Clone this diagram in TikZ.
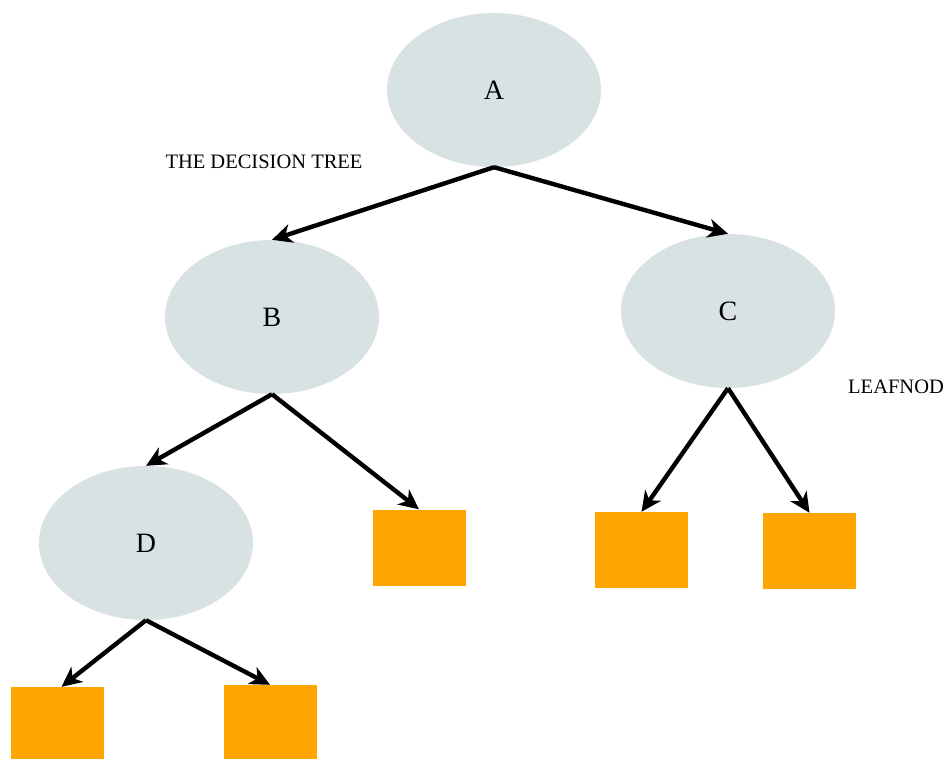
\documentclass[tikz,border=0pt]{standalone}
\usepackage{fontspec}
\setmainfont{Liberation Serif}
\usetikzlibrary{arrows.meta,shapes.geometric}
\definecolor{nodefill}{HTML}{D8E2E3}
\definecolor{leaffill}{HTML}{FFA500}
\begin{document}
\begin{tikzpicture}[x=1pt,y=-1pt,
  decision/.style={ellipse, fill=nodefill, draw=none, minimum width=214pt, minimum height=154pt, inner sep=0pt, font=\fontsize{28}{32}\selectfont},
  leaf/.style={rectangle, fill=leaffill, draw=none, minimum width=93pt, minimum height=76pt, inner sep=0pt},
  branch/.style={line width=4.4pt, -{Stealth[length=20pt,width=19pt,inset=6pt]}},
  caption/.style={font=\fontsize{20.5}{24}\selectfont, inner sep=0pt}]
  \useasboundingbox[fill=white] (0,0) rectangle (947,758);
  % decision nodes
  \node[decision] (A) at (494,90) {A};
  \node[decision] (B) at (272,317) {B};
  \node[decision] (C) at (728,311) {C};
  \node[decision] (D) at (146,543) {D};
  % leaves
  \node[leaf] (L1) at (419,547.5) {};
  \node[leaf] (L2) at (641.5,550) {};
  \node[leaf] (L3) at (809.5,551) {};
  \node[leaf] (L4) at (57.5,725) {};
  \node[leaf] (L5) at (270,723) {};
  % labels
  \node[caption] (title) at (264,162) {THE DECISION TREE};
  \node[caption, anchor=west] (leafnote) at (848,387) {LEAFNOD};
  % branches
  \draw[branch] (A.south) -- (B.north);
  \draw[branch] (A.south) -- (C.north);
  \draw[branch] (B.south) -- (D.north);
  \draw[branch] (B.south) -- (L1.north);
  \draw[branch] (C.south) -- (L2.north);
  \draw[branch] (C.south) -- (L3.north);
  \draw[branch] (D.south) -- ([xshift=4pt]L4.north);
  \draw[branch] (D.south) -- (L5.north);
\end{tikzpicture}
\end{document}
